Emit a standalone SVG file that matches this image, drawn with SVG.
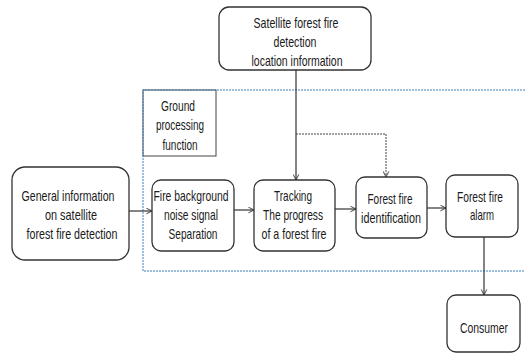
<svg xmlns="http://www.w3.org/2000/svg" width="525" height="356" viewBox="0 0 525 356">
<style>
.box{fill:#fff;stroke:#333;stroke-width:1.3}
.t{font-family:"Liberation Sans",Arial,sans-serif;font-size:15px;fill:#1a1a1a;text-anchor:middle}
.c{fill:none;stroke:#333;stroke-width:1.2}
.d{fill:none;stroke:#444;stroke-width:1;stroke-dasharray:2 1}
.frame{fill:none;stroke:#3a80c0;stroke-width:1;stroke-dasharray:2 1}
</style>
<defs>
<marker id="ah" viewBox="0 0 10 10" refX="9" refY="5" markerWidth="7" markerHeight="7" orient="auto" markerUnits="userSpaceOnUse">
<path d="M1,1 L9,5 L1,9" fill="none" stroke="#333" stroke-width="1.3"/>
</marker>
</defs>
<rect width="525" height="356" fill="#fff"/>
<g id="ground-label">
<rect x="143" y="90" width="73" height="66" fill="#fff" stroke="#444" stroke-width="1"/>
<text class="t"><tspan x="178" y="111" textLength="34" lengthAdjust="spacingAndGlyphs">Ground</tspan><tspan x="180" y="130" textLength="48" lengthAdjust="spacingAndGlyphs">processing</tspan><tspan x="180" y="150" textLength="35" lengthAdjust="spacingAndGlyphs">function</tspan></text>
</g>
<g id="ground-frame">
<path class="frame" d="M525,90 H143 V271 H525"/>
</g>
<g id="connectors">
<line class="c" x1="296" y1="70" x2="296" y2="180" marker-end="url(#ah)"/>
<polyline class="d" points="296,134 386,134 386,177" marker-end="url(#ah)"/>
<line class="c" x1="129" y1="211" x2="152" y2="211" marker-end="url(#ah)"/>
<line class="c" x1="234" y1="210" x2="254" y2="210" marker-end="url(#ah)"/>
<line class="c" x1="335" y1="209" x2="356" y2="209" marker-end="url(#ah)"/>
<line class="c" x1="427" y1="208" x2="446" y2="208" marker-end="url(#ah)"/>
<line class="c" x1="484" y1="237" x2="484" y2="295" marker-end="url(#ah)"/>
</g>
<g id="satellite-location">
<rect class="box" x="219" y="7" width="152" height="63" rx="10"/>
<text class="t"><tspan x="296" y="28" textLength="85" lengthAdjust="spacingAndGlyphs">Satellite forest fire</tspan><tspan x="295" y="47" textLength="43" lengthAdjust="spacingAndGlyphs">detection</tspan><tspan x="297" y="66" textLength="91" lengthAdjust="spacingAndGlyphs">location information</tspan></text>
</g>
<g id="general-info">
<rect class="box" x="12" y="167" width="117" height="93" rx="13"/>
<text class="t"><tspan x="68" y="201" textLength="93" lengthAdjust="spacingAndGlyphs">General information</tspan><tspan x="71" y="220" textLength="52" lengthAdjust="spacingAndGlyphs">on satellite</tspan><tspan x="72" y="239" textLength="91" lengthAdjust="spacingAndGlyphs">forest fire detection</tspan></text>
</g>
<g id="noise-separation">
<rect class="box" x="152" y="180" width="82" height="71" rx="9"/>
<text class="t"><tspan x="191" y="201" textLength="75" lengthAdjust="spacingAndGlyphs">Fire background</tspan><tspan x="191" y="220" textLength="54" lengthAdjust="spacingAndGlyphs">noise signal</tspan><tspan x="193" y="239" textLength="49" lengthAdjust="spacingAndGlyphs">Separation</tspan></text>
</g>
<g id="tracking">
<rect class="box" x="254" y="180" width="81" height="71" rx="9"/>
<text class="t"><tspan x="293" y="201" textLength="38" lengthAdjust="spacingAndGlyphs">Tracking</tspan><tspan x="293" y="220" textLength="60" lengthAdjust="spacingAndGlyphs">The progress</tspan><tspan x="294" y="239" textLength="65" lengthAdjust="spacingAndGlyphs">of a forest fire</tspan></text>
</g>
<g id="identification">
<rect class="box" x="356" y="177" width="71" height="61" rx="9"/>
<text class="t"><tspan x="390" y="204" textLength="45" lengthAdjust="spacingAndGlyphs">Forest fire</tspan><tspan x="391" y="223" textLength="60" lengthAdjust="spacingAndGlyphs">identification</tspan></text>
</g>
<g id="alarm">
<rect class="box" x="446" y="175" width="72" height="62" rx="9"/>
<text class="t"><tspan x="480" y="202" textLength="46" lengthAdjust="spacingAndGlyphs">Forest fire</tspan><tspan x="482" y="220" textLength="24" lengthAdjust="spacingAndGlyphs">alarm</tspan></text>
</g>
<g id="consumer">
<rect class="box" x="447" y="295" width="73" height="57" rx="9"/>
<text class="t"><tspan x="484" y="333" textLength="48" lengthAdjust="spacingAndGlyphs">Consumer</tspan></text>
</g>
</svg>
